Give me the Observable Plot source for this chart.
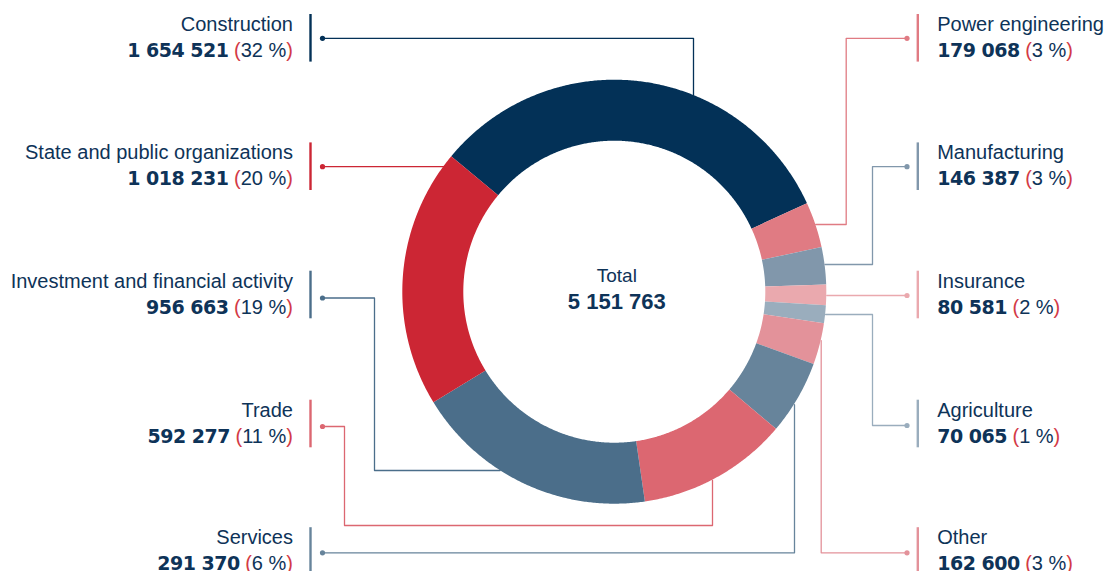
<!DOCTYPE html>
<html>
<head>
<meta charset="utf-8">
<script src="https://cdn.jsdelivr.net/npm/d3@7"></script>
<script src="https://cdn.jsdelivr.net/npm/@observablehq/plot@0.6"></script>
<style>
  html, body { margin: 0; padding: 0; background: #ffffff; }
  #chart { width: 1105px; height: 571px; }
</style>
</head>
<body>
<div id="chart"></div>
<script>
// ---------- DATA ----------
const categories = [
  "Construction", "Power engineering", "Manufacturing", "Insurance", "Agriculture",
  "Other", "Services", "Trade", "Investment and financial activity", "State and public organizations"
];
const values = [1654521, 179068, 146387, 80581, 70065, 162600, 291370, 592277, 956663, 1018231];
const colors = ["#033157", "#e07b83", "#8197ab", "#eaa9ae", "#9aadbd", "#e3929a", "#67849b", "#dc6771", "#4b6e8a", "#cc2634"];
const totalLabel = "Total";

// ---------- LAYOUT ----------
const W = 1105, H = 571;
const CX = 614.3, CY = 291.7, R_OUT = 212, R_IN = 151;
const START_DEG = -50.3;
const NAVY = "#0e3358", RED = "#d33a46";
const ROW_Y = [37.8, 166.2, 294.5, 423.5, 551];
const SIDE = { left: { text: 292.5, bar: 310, dot: 322 }, right: { text: 936.7, bar: 917.3, dot: 906.5 } };
// side, row, dot offset, route for the leader line (elbows), per category
const layout = {
  "Construction": { side: "left", row: 0, dy: 0, route: [["h", 693], ["varc"]] },
  "Power engineering": { side: "right", row: 0, dy: 0, route: [["h", 845.7], ["v", 224], ["harc"]] },
  "Manufacturing": { side: "right", row: 1, dy: 0, route: [["h", 872], ["v", 264], ["harc"]] },
  "Insurance": { side: "right", row: 2, dy: 0.5, route: [["harc"]] },
  "Agriculture": { side: "right", row: 3, dy: 1.5, route: [["h", 872], ["v", 314], ["harc"]] },
  "Other": { side: "right", row: 4, dy: 1.3, route: [["h", 820.7], ["varc"]] },
  "Services": { side: "left", row: 4, dy: 1.3, route: [["h", 794], ["varc"]] },
  "Trade": { side: "left", row: 3, dy: 2.5, route: [["h", 344], ["v", 525], ["h", 712], ["varc"]] },
  "Investment and financial activity": { side: "left", row: 2, dy: 3, route: [["h", 374], ["v", 470], ["harc"]] },
  "State and public organizations": { side: "left", row: 1, dy: 0, route: [["harc"]] }
};

// ---------- DERIVED ----------
const total = d3.sum(values);
const fmt = v => d3.format(",")(v).replace(/,/g, " ");
const rad = d => d * Math.PI / 180;

let acc = START_DEG;
const slices = categories.map((c, i) => {
  const a0 = acc, a1 = acc + values[i] / total * 360;
  acc = a1;
  return { c, a0, a1 };
});

const ringPts = slices.flatMap(s => {
  const n = Math.max(2, Math.ceil((s.a1 - s.a0) / 0.4));
  return d3.range(n + 1).map(k => {
    const a = rad(s.a0 + (s.a1 - s.a0) * k / n);
    return {
      c: s.c,
      xi: CX + R_IN * Math.sin(a), yi: CY - R_IN * Math.cos(a),
      xo: CX + R_OUT * Math.sin(a), yo: CY - R_OUT * Math.cos(a)
    };
  });
});

const labels = categories.map((c, i) => {
  const L = layout[c], S = SIDE[L.side];
  const y = ROW_Y[L.row];
  return {
    c, side: L.side,
    textX: S.text, barX: S.bar, dotX: S.dot,
    nameY: y - 7.5, numY: y + 18.5,
    barY1: y - 23.8, barY2: y + 23.8,
    dotY: y + L.dy,
    num: fmt(values[i]) + "|" + Math.round(values[i] / total * 100) + " %"
  };
});

// leader line points
const leaderPts = labels.flatMap(l => {
  let x = l.dotX, y = l.dotY;
  const pts = [{ c: l.c, x, y }];
  for (const step of layout[l.c].route) {
    if (step[0] === "h") x = step[1];
    else if (step[0] === "v") y = step[1];
    else if (step[0] === "harc") {
      const s = x < CX ? -1 : 1;
      x = CX + s * Math.sqrt(R_OUT * R_OUT - (y - CY) ** 2);
    } else if (step[0] === "varc") {
      const s = y < CY ? -1 : 1;
      y = CY + s * Math.sqrt(R_OUT * R_OUT - (x - CX) ** 2);
    }
    pts.push({ c: l.c, x, y });
  }
  return pts;
});

const left = labels.filter(d => d.side === "left");
const right = labels.filter(d => d.side === "right");
const FONT = "'Liberation Sans', Arial, Helvetica, sans-serif";

const textMarks = [];
for (const [arr, anchor] of [[left, "end"], [right, "start"]]) {
  textMarks.push(Plot.text(arr, {
    x: "textX", y: "nameY", text: "c", textAnchor: anchor, lineAnchor: "bottom",
    fontSize: 20, fill: NAVY, fontFamily: FONT
  }));
  textMarks.push(Plot.text(arr, {
    x: "textX", y: "numY", text: "num", textAnchor: anchor, lineAnchor: "bottom",
    fontSize: 20, fill: NAVY, fontFamily: FONT
  }));
}

const center = [{ x: CX + 2, y: 281, t: totalLabel, w: "normal", s: 19, f: FONT },
                { x: CX + 2, y: 308.5, t: fmt(total), w: "bold", s: 22, f: FONT }];

const chart = Plot.plot({
  width: W, height: H, margin: 0,
  x: { domain: [0, W], range: [0, W], axis: null },
  y: { domain: [0, H], range: [0, H], axis: null },
  color: { domain: categories, range: colors },
  style: { background: "#ffffff", overflow: "visible" },
  marks: [
    Plot.area(ringPts, { x1: "xi", y1: "yi", x2: "xo", y2: "yo", z: "c", fill: "c", curve: "linear" }),
    Plot.line(leaderPts, { x: "x", y: "y", z: "c", stroke: "c", strokeWidth: 1.3, curve: "linear" }),
    Plot.dot(labels, { x: "dotX", y: "dotY", r: 2.6, fill: "c", stroke: null }),
    Plot.ruleX(labels, { x: "barX", y1: "barY1", y2: "barY2", stroke: "c", strokeWidth: 2.4 }),
    ...textMarks,
    Plot.text(center.slice(0, 1), { x: "x", y: "y", text: "t", lineAnchor: "bottom", fontSize: 19, fill: NAVY, fontFamily: FONT }),
    Plot.text(center.slice(1), { x: "x", y: "y", text: "t", lineAnchor: "bottom", fontSize: 22, fontWeight: "bold", fill: NAVY, fontFamily: FONT })
  ]
});

// rich formatting of the number lines: bold number, red parentheses
d3.select(chart).selectAll("text").each(function () {
  const t = this.textContent;
  if (!t.includes("|")) return;
  const [n, p] = t.split("|");
  const s = d3.select(this);
  s.text(null);
  s.append("tspan").attr("font-family", "'DejaVu Sans', sans-serif").attr("font-weight", "bold")
    .attr("font-size", 19).attr("letter-spacing", "-0.5").text(n);
  s.append("tspan").attr("fill", RED).text("\u00a0(");
  s.append("tspan").attr("fill", NAVY).text(p);
  s.append("tspan").attr("fill", RED).text(")");
});

document.getElementById("chart").appendChild(chart);
</script>
</body>
</html>
